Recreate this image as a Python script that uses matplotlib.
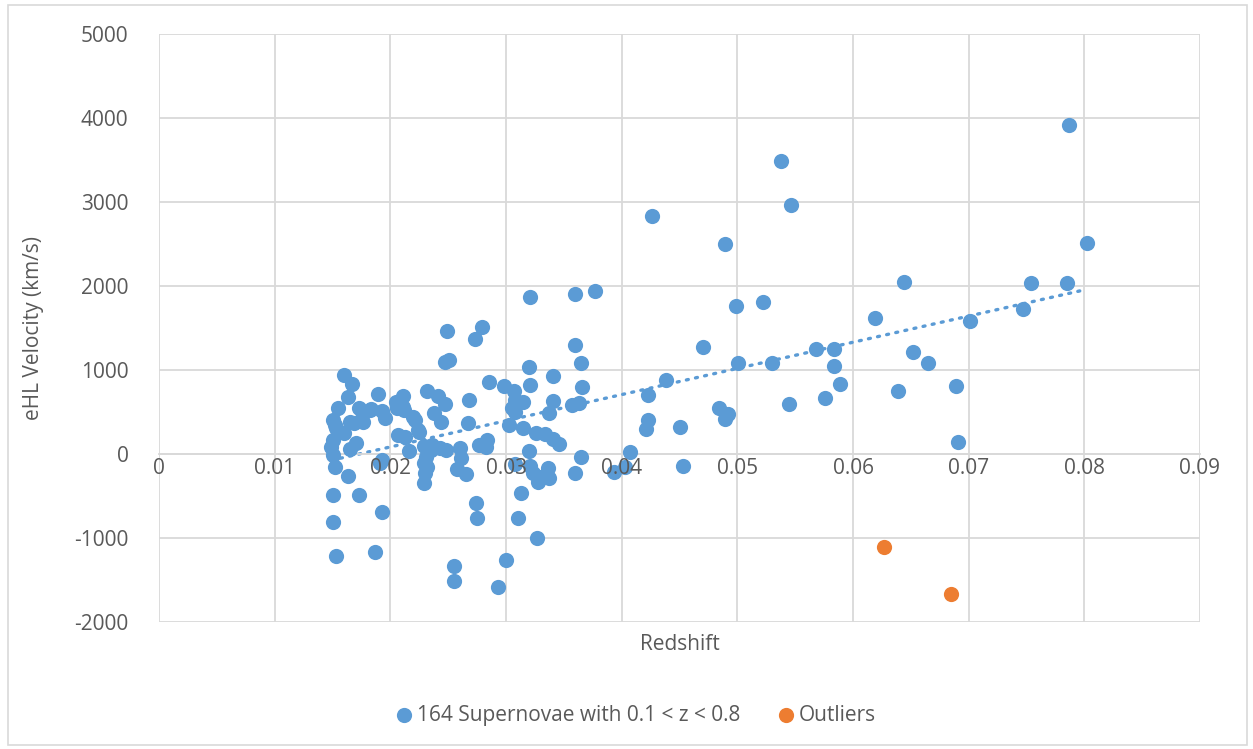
import numpy as np
import matplotlib
matplotlib.use("Agg")
import matplotlib.pyplot as plt
from matplotlib.patches import Rectangle

plt.rcParams.update({"font.family": ["Open Sans", "DejaVu Sans"], "font.size": 15,
                     "axes.unicode_minus": False})
AZUL, LARANJA, CINZA = "#5B9BD5", "#ED7D31", "#595959"

# ── Dados ─────────────────────────────────────────────────────────────────────
z_sn = [0.0150, 0.0150, 0.0149, 0.0150, 0.0152, 0.0150, 0.0150, 0.0153, 0.0152, 0.0153,
        0.0155, 0.0160, 0.0167, 0.0163, 0.0160, 0.0163, 0.0165, 0.0165, 0.0170, 0.0169,
        0.0173, 0.0175, 0.0173, 0.0176, 0.0182, 0.0183, 0.0189, 0.0187, 0.0193, 0.0195,
        0.0193, 0.0193, 0.0191,
        0.0205, 0.0211, 0.0206, 0.0212, 0.0211, 0.0220, 0.0221, 0.0224, 0.0207, 0.0213,
        0.0216, 0.0225, 0.0232, 0.0241, 0.0247, 0.0238, 0.0244, 0.0229, 0.0236, 0.0235,
        0.0243, 0.0248, 0.0231, 0.0232, 0.0229, 0.0230, 0.0229, 0.0247, 0.0251, 0.0249,
        0.0260, 0.0261, 0.0258, 0.0265, 0.0268, 0.0267, 0.0273, 0.0279, 0.0255, 0.0255,
        0.0274, 0.0275, 0.0277, 0.0284, 0.0283, 0.0285, 0.0298, 0.0293, 0.0300,
        0.0307, 0.0315, 0.0308, 0.0305, 0.0308, 0.0303, 0.0315, 0.0326, 0.0334, 0.0341,
        0.0346, 0.0320, 0.0308, 0.0321, 0.0336, 0.0323, 0.0330, 0.0337, 0.0328, 0.0313,
        0.0310, 0.0327, 0.0320, 0.0321, 0.0321, 0.0341, 0.0341, 0.0337,
        0.0360, 0.0377, 0.0360, 0.0365, 0.0366, 0.0357, 0.0363, 0.0365, 0.0360, 0.0393,
        0.0403, 0.0407,
        0.0426, 0.0423, 0.0423, 0.0421, 0.0438, 0.0450, 0.0453, 0.0470, 0.0484, 0.0489,
        0.0492, 0.0489, 0.0499, 0.0501, 0.0522, 0.0530, 0.0538, 0.0546, 0.0545, 0.0568,
        0.0576, 0.0584, 0.0584, 0.0589, 0.0619, 0.0639, 0.0644, 0.0652, 0.0665, 0.0689,
        0.0691, 0.0701, 0.0747, 0.0754, 0.0785, 0.0787, 0.0802]
v_sn = [405, 167, 87, -12, -160, -488, -813, -1214, 345, 306,
        553, 935, 835, 675, 254, -265, 384, 60, 127, 365,
        544, 405, -488, 384, 524, 540, 716, -1163, 514, 430,
        -694, -71, -111,
        622, 686, 544, 520, 563, 435, 405, 290, 226, 206,
        35, 265, 747, 696, 600, 488, 378, 100, 107, 48,
        68, 42, -32, -151, -111, -230, -349, 1100, 1115, 1464,
        68, -50, -180, -240, 643, 365, 1372, 1515, -1329, -1511,
        -587, -765, 107, 167, 87, 860, 809, -1586, -1261,
        750, 622, 643, 544, 504, 345, 310, 246, 238, 175,
        119, 40, -123, -143, -163, -230, -270, -289, -330, -468,
        -765, -996, 1036, 1865, 821, 932, 634, 484,
        1904, 1940, 1297, 1079, 801, 583, 610, -32, -230, -210,
        -151, 27,
        2832, 702, 405, 298, 881, 317, -139, 1270, 544, 2495,
        476, 413, 1765, 1079, 1805, 1087, 3487, 2963, 591, 1250,
        663, 1250, 1047, 833, 1615, 750, 2043, 1217, 1087, 813,
        139, 1583, 1726, 2039, 2031, 3915, 2515]
z_out = [0.0627, 0.0685]
v_out = [-1110, -1670]
x_ticks = [0, 0.01, 0.02, 0.03, 0.04, 0.05, 0.06, 0.07, 0.08, 0.09]
x_rotulos = ["0", "0.01", "0.02", "0.03", "0.04", "0.05", "0.06", "0.07", "0.08", "0.09"]

# ── Gráfico ───────────────────────────────────────────────────────────────────
fig = plt.figure(figsize=(12.53, 7.49), dpi=100)
ax = fig.add_axes([0.1269, 0.1696, 0.8308, 0.785])

ax.set_xlim(0, 0.09); ax.set_ylim(-2000, 5000)
ax.set_xticks(x_ticks); ax.set_xticklabels([])
ax.set_yticks(range(-2000, 5001, 1000))
ax.grid(True, color="#D9D9D9", lw=1.3); ax.set_axisbelow(True)
for s in ["top", "right", "left"]:
    ax.spines[s].set_visible(False)
ax.spines["bottom"].set_position(("data", 0))
ax.spines["bottom"].set_color("#D9D9D9"); ax.spines["bottom"].set_linewidth(1.3)
ax.tick_params(length=0, colors=CINZA, labelsize=15)
ax.tick_params(axis="y", pad=22)

ax.scatter(z_sn, v_sn, s=120, color=AZUL, zorder=3, lw=0,
           label="164 Supernovae with 0.1 < z < 0.8")
ax.scatter(z_out, v_out, s=120, color=LARANJA, zorder=3, lw=0, label="Outliers")

# linha de tendência linear (pontilhada)
a, b = np.polyfit(z_sn, v_sn, 1)
xs = np.array([min(z_sn), max(z_sn)])
ax.plot(xs, a * xs + b, color=AZUL, lw=2.4, ls=(0, (0.6, 2.2)),
        dash_capstyle="round", zorder=2)

# rótulos do eixo x por cima dos pontos, como no Excel
for t, r in zip(x_ticks, x_rotulos):
    ax.annotate(r, (t, 0), xytext=(0, -3), textcoords="offset points", ha="center",
                va="top", color=CINZA, fontsize=15, zorder=5, annotation_clip=False)

fig.text(0.027, 0.562, "eHL Velocity (km/s)", rotation=90, ha="center", va="center",
         color=CINZA, fontsize=15)
fig.text(0.5427, 0.139, "Redshift", ha="center", va="center", color=CINZA, fontsize=15)

fig.legend(loc="center", bbox_to_anchor=(0.507, 0.045), ncol=2, frameon=False,
           handlelength=0.9, handletextpad=0.15, columnspacing=1.75, markerscale=1.0,
           labelcolor=CINZA, fontsize=15)

fig.patches.append(Rectangle((0.006, 0.006), 0.989, 0.987, transform=fig.transFigure,
                             fill=False, edgecolor="#D9D9D9", lw=1.2))

fig.savefig("out.png", dpi=100)
